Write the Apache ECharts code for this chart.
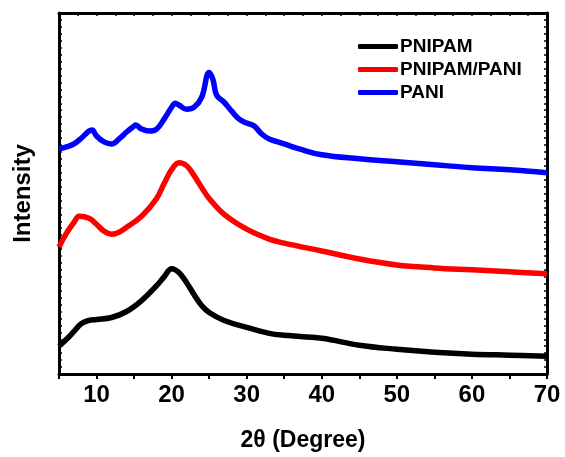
<!DOCTYPE html>
<html>
<head>
<meta charset="utf-8">
<script src="https://cdn.jsdelivr.net/npm/echarts@6/dist/echarts.min.js"></script>
<style>
  html, body { margin: 0; padding: 0; background: #fff; }
  #chart { width: 565px; height: 457px; }
</style>
</head>
<body>
<div id="chart"></div>
<script>
// 2θ positions and intensities (arbitrary units)
const pnipamX = [5, 6, 7, 8, 9, 10, 12, 14, 16, 18, 19, 20, 21, 22, 23, 24, 25, 27, 30, 33, 35, 40, 45, 50, 55, 60, 65, 70];
const pnipamY = [28, 35, 43, 51, 54, 55, 57, 63, 74, 89, 98, 106, 102, 92, 80, 69, 62, 54, 47, 41, 39, 36, 29, 25, 22, 20, 19, 18];

const compX = [5, 6, 7, 7.7, 9, 10, 11, 12, 13, 14, 16, 18, 19, 20, 21, 22, 23, 24, 25, 27, 30, 33, 35, 40, 45, 50, 55, 60, 65, 70];
const compY = [128, 142, 153, 159, 157, 151, 144, 141, 143, 148, 159, 177, 192, 206, 213, 210, 200, 188, 177, 161, 146, 136, 132, 124, 116, 110, 107, 105, 103, 101];

const paniX = [5, 6, 7, 8, 9, 9.4, 10, 11, 12, 13, 14, 15, 15.2, 16, 17, 18, 19, 20, 20.5, 21, 22, 23, 24, 25, 25.5, 26, 27, 28, 29, 30, 31, 32, 33, 35, 37, 40, 45, 50, 55, 60, 65, 70];
const paniY = [227, 229, 232, 238, 245, 246, 240, 234, 232, 237, 244, 250, 251, 247, 245, 247, 257, 269, 273, 271, 267, 269, 279, 304, 297, 281, 274, 265, 257, 253, 250, 242, 237, 232, 227, 221, 217, 214, 211, 208, 206, 203];

const xTicks = [10, 20, 30, 40, 50, 60, 70];

const pairs = (xs, ys) => xs.map((x, i) => [x, ys[i]]);
const font = "Liberation Sans, Arial, sans-serif";

let myChart = echarts.init(document.getElementById("chart"));
let frameLine = { show: true, onZero: false, lineStyle: { color: "#000", width: 3 } };
let option = {
  animation: false,
  grid: { left: 59, right: 18, top: 13, bottom: 82 },
  legend: {
    orient: "vertical",
    left: 353,
    top: 32,
    itemGap: 4,
    itemWidth: 40,
    itemHeight: 5,
    icon: "roundRect",
    textStyle: { fontFamily: font, fontWeight: "bold", fontSize: 19, color: "#000", padding: [0, 0, 0, -3] },
    data: ["PNIPAM", "PNIPAM/PANI", "PANI"]
  },
  xAxis: [
    {
      type: "value",
      min: 5,
      max: 70,
      interval: 5,
      name: "2θ (Degree)",
      nameLocation: "middle",
      nameGap: 55,
      nameTextStyle: { fontFamily: font, fontWeight: "bold", fontSize: 23, color: "#000" },
      axisLine: frameLine,
      axisTick: { inside: false, length: 5, lineStyle: { width: 2, color: "#000" } },
      axisLabel: {
        fontFamily: font, fontWeight: "bold", fontSize: 24, color: "#000", margin: 9,
        formatter: v => (xTicks.includes(v) ? String(v) : "")
      },
      splitLine: { show: false }
    },
    {
      type: "value",
      position: "top",
      min: 5,
      max: 70,
      interval: 2.5,
      axisLine: frameLine,
      axisTick: { inside: true, length: 3, lineStyle: { width: 1.5, color: "#000" } },
      axisLabel: { show: false },
      splitLine: { show: false }
    }
  ],
  yAxis: [
    {
      type: "value",
      min: 0,
      max: 364,
      interval: 7,
      name: "Intensity",
      nameLocation: "middle",
      nameGap: 24,
      nameTextStyle: { fontFamily: font, fontWeight: "bold", fontSize: 24, color: "#000" },
      axisLine: frameLine,
      axisTick: { inside: true, length: 3, lineStyle: { width: 1.5, color: "#000" } },
      axisLabel: { show: false },
      splitLine: { show: false }
    },
    {
      type: "value",
      position: "right",
      min: 0,
      max: 364,
      interval: 7,
      axisLine: frameLine,
      axisTick: { inside: true, length: 3, lineStyle: { width: 1.5, color: "#000" } },
      axisLabel: { show: false },
      splitLine: { show: false }
    }
  ],
  series: [
    {
      name: "PNIPAM", type: "line", smooth: 0.4, symbol: "none",
      itemStyle: { color: "#000" }, lineStyle: { color: "#000", width: 5.5 },
      data: pairs(pnipamX, pnipamY)
    },
    {
      name: "PNIPAM/PANI", type: "line", smooth: 0.4, symbol: "none",
      itemStyle: { color: "#ff0000" }, lineStyle: { color: "#ff0000", width: 5.5 },
      data: pairs(compX, compY)
    },
    {
      name: "PANI", type: "line", smooth: 0.4, symbol: "none",
      itemStyle: { color: "#0000ff" }, lineStyle: { color: "#0000ff", width: 5.5 },
      data: pairs(paniX, paniY)
    }
  ]
};
myChart.setOption(option);
</script>
</body>
</html>
